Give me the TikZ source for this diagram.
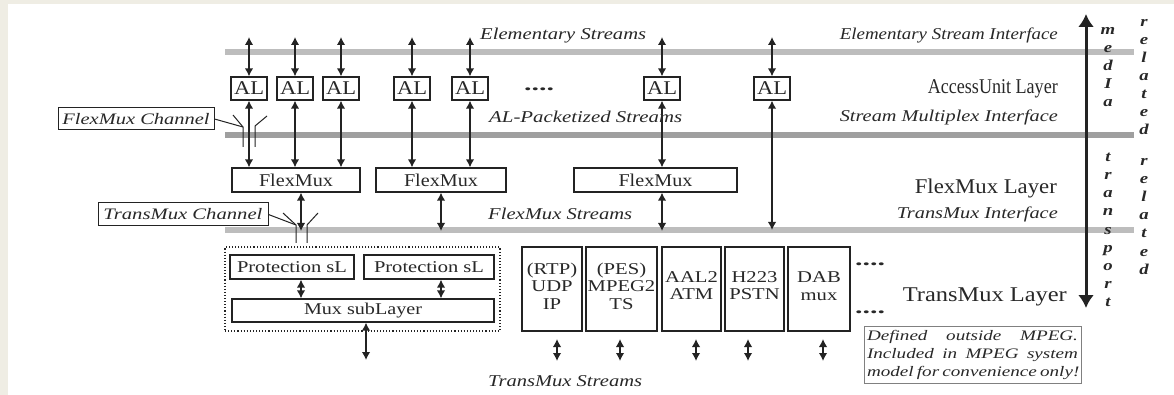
\documentclass[tikz,border=0pt]{standalone}
\usepackage{fontspec}
\setmainfont{Liberation Serif}
\usetikzlibrary{arrows.meta}
\definecolor{beige}{RGB}{239,237,228}
\definecolor{ink}{RGB}{35,35,35}
\definecolor{txt}{RGB}{40,40,40}
\newcommand{\fw}[2]{\resizebox{#1pt}{\height}{#2}}
\newcommand{\sx}[1]{\scalebox{1.25}[1]{#1}}
\newcommand{\jl}[1]{\resizebox{211pt}{\height}{\makebox[160pt][s]{#1}}}
\begin{document}
\begin{tikzpicture}[x=1pt,y=-1pt,
  box/.style={draw=ink, line width=1.3pt, inner sep=0pt, text=txt},
  lab/.style={text=txt, inner sep=0pt},
  ital/.style={lab, font=\fontsize{16.5}{16.5}\selectfont\itshape},
  big/.style={lab, font=\fontsize{21}{21}\selectfont},
  albox/.style={box, minimum width=36pt, minimum height=23pt, font=\fontsize{19.5}{19.5}\selectfont},
  fmbox/.style={box, minimum height=24pt, font=\fontsize{18}{18}\selectfont},
  tbox/.style={box, minimum height=84pt},
  ttext/.style={lab, align=center, font=\fontsize{16.5}{17.5}\selectfont},
  vl/.style={lab, font=\fontsize{15}{15}\selectfont\bfseries\itshape, anchor=base},
  dar/.style={draw=ink, line width=1.4pt, {Latex[length=8pt,width=8.5pt]}-{Latex[length=8pt,width=8.5pt]}},
  thinl/.style={draw=ink, line width=1pt},
  dots/.style={lab, font=\fontsize{18}{18}\selectfont\bfseries}
]
\useasboundingbox (0,0) rectangle (1174,395);
\fill[beige] (0,0) rectangle (1174,395);
\fill[white] (8,4) rectangle (1174,395);

% interface bands
\fill[gray!52] (225,49) rectangle (1134,55);
\fill[gray!75] (225,132) rectangle (1134,138);
\fill[gray!52] (225,227) rectangle (1134,233);

% AL boxes
\node[albox] (al1) at (249,88.5) {\fw{30}{AL}};
\node[albox] (al2) at (295,88.5) {\fw{30}{AL}};
\node[albox] (al3) at (341,88.5) {\fw{30}{AL}};
\node[albox] (al4) at (412,88.5) {\fw{30}{AL}};
\node[albox] (al5) at (470,88.5) {\fw{30}{AL}};
\node[albox] (al6) at (662,88.5) {\fw{30}{AL}};
\node[albox] (al7) at (772,88.5) {\fw{30}{AL}};
\node[dots] (dd1) at (539,89) {\fw{30}{....}};

% top stream arrows
\foreach \n/\x in {1/249,2/295,3/341,4/412,5/470,6/662,7/772}{
  \coordinate (t\n) at (\x,37);
  \draw[dar] (t\n) -- (al\n.north);
}

% FlexMux boxes
\node[fmbox, minimum width=128pt] (fm1) at (296,180) {\fw{74}{FlexMux}};
\node[fmbox, minimum width=130pt] (fm2) at (441,180) {\fw{74}{FlexMux}};
\node[fmbox, minimum width=163pt] (fm3) at (655.5,180) {\fw{74}{FlexMux}};

\draw[dar] (al1.south) -- (al1.south |- fm1.north);
\draw[dar] (al2.south) -- (al2.south |- fm1.north);
\draw[dar] (al3.south) -- (al3.south |- fm1.north);
\draw[dar] (al4.south) -- (al4.south |- fm2.north);
\draw[dar] (al5.south) -- (al5.south |- fm2.north);
\draw[dar] (al6.south) -- (al6.south |- fm3.north);
\coordinate (b7) at (772,230);
\draw[dar] (al7.south) -- (b7);

\coordinate (b1) at (301,231);
\coordinate (b2) at (441,231);
\coordinate (b3) at (662,231);
\draw[dar] (fm1.south -| b1) -- (b1);
\draw[dar] (fm2.south -| b2) -- (b2);
\draw[dar] (fm3.south -| b3) -- (b3);

% channel markers
\node[box, line width=1pt, minimum width=156pt, minimum height=22pt, font=\fontsize{16}{16}\selectfont\itshape] (fmc) at (136,119) {\fw{147}{FlexMux Channel}};
\coordinate (fcl) at (243,127);
\draw[thinl] (fmc.east) -- (fcl);
\draw[thinl] (233,115) -- (fcl) -- (243,147);
\draw[thinl] (267,116) -- (255,126) -- (255,147);

\node[box, line width=1pt, minimum width=170pt, minimum height=23pt, font=\fontsize{16}{16}\selectfont\itshape] (tmc) at (183,214.5) {\fw{159}{TransMux Channel}};
\coordinate (tcl) at (296,225);
\draw[thinl] (tmc.east) -- (tcl);
\draw[thinl] (283,213) -- (tcl) -- (296,243);
\draw[thinl] (318,213) -- (307,225) -- (307,243);

% protection / mux group
\node[draw=ink, dotted, line width=1.1pt, minimum width=275pt, minimum height=84pt, inner sep=0pt] (grp) at (362.5,289) {};
\node[box, minimum width=124pt, minimum height=24pt, font=\fontsize{16.5}{16.5}\selectfont] (p1) at (292,267) {\fw{110}{Protection sL}};
\node[box, minimum width=130pt, minimum height=24pt, font=\fontsize{16.5}{16.5}\selectfont] (p2) at (429,267) {\fw{110}{Protection sL}};
\node[box, minimum width=262pt, minimum height=23pt, font=\fontsize{16.5}{16.5}\selectfont] (mux) at (363,310.5) {\fw{118}{Mux subLayer}};
\draw[dar] ([xshift=9pt]p1.south) -- ([xshift=9pt]p1.south |- mux.north);
\draw[dar] ([xshift=12pt]p2.south) -- ([xshift=12pt]p2.south |- mux.north);
\coordinate (mx) at (366,360);
\draw[dar] (mux.south -| mx) -- (mx);

% transport boxes
\node[tbox, minimum width=60pt] (rtp) at (552,289) {};
\node[tbox, minimum width=71pt] (pes) at (621.5,289) {};
\node[tbox, minimum width=59pt] (aal) at (691.5,289) {};
\node[tbox, minimum width=59pt] (h223) at (754.5,289) {};
\node[tbox, minimum width=62pt] (dab) at (819,289) {};
\node[ttext] (rtpt) at ([yshift=3pt]rtp.center) {\sx{(RTP)}\\\sx{UDP}\\\sx{IP}};
\node[ttext] (pest) at ([yshift=3pt]pes.center) {\sx{(PES)}\\\sx{MPEG2}\\\sx{TS}};
\node[ttext] (aalt) at ([yshift=3.5pt]aal.center) {\sx{AAL2}\\\sx{ATM}};
\node[ttext] (h223t) at ([yshift=3.5pt]h223.center) {\sx{H223}\\\sx{PSTN}};
\node[ttext] (dabt) at ([yshift=3pt]dab.center) {\sx{DAB}\\\sx{mux}};
\node[dots] (dd2) at (870,264) {\fw{30}{....}};
\node[dots] (dd3) at (870,312) {\fw{30}{....}};

\foreach \n/\x in {1/557,2/620,3/696,4/748,5/823}{
  \coordinate (sa\n) at (\x,339);
  \coordinate (sb\n) at (\x,361);
  \draw[dar] (sa\n) -- (sb\n);
}

% note box
\node[draw=gray, line width=0.8pt, minimum width=217pt, minimum height=57pt, inner sep=0pt, align=center, text=txt, font=\fontsize{14.5}{18}\selectfont\itshape] (note) at (972.5,354.5)
  {\jl{Defined\hfill outside\hfill MPEG.}\\\jl{Included\hfill in\hfill MPEG\hfill system}\\\jl{model for convenience only!}};

% labels
\node[ital, anchor=base west] (les) at (480,40) {\fw{166}{Elementary Streams}};
\node[ital, anchor=base east] (lesi) at (1058,40) {\fw{218}{Elementary Stream Interface}};
\node[ital, anchor=base west] (lalp) at (489,123) {\fw{193}{AL-Packetized Streams}};
\node[ital, anchor=base east] (lsmi) at (1058,122) {\fw{218}{Stream Multiplex Interface}};
\node[ital, anchor=base west] (lfms) at (488,220) {\fw{144}{FlexMux Streams}};
\node[ital, anchor=base east] (ltmi) at (1058,219) {\fw{161}{TransMux Interface}};
\node[ital, anchor=base west] (ltms) at (488,386) {\fw{154}{TransMux Streams}};
\node[big, anchor=base east] (laul) at (1058,94) {\fw{130}{AccessUnit Layer}};
\node[big, anchor=base east] (lfml) at (1057,194) {\fw{142}{FlexMux Layer}};
\node[big, anchor=base east] (ltml) at (1067,301) {\fw{164}{TransMux Layer}};

% big vertical arrow
\coordinate (ua) at (1086,14);
\coordinate (da) at (1086,308);
\draw[draw=ink, line width=3pt, {Latex[length=13pt,width=16pt]}-{Latex[length=13pt,width=16pt]}] (ua) -- (da);

% vertical words
\foreach \ch [count=\i] in {m,e,d,I,a}
  \node[vl] (vm\i) at (1108,17+18*\i) {\scalebox{1.25}[1]{\ch}};
\foreach \ch [count=\i] in {r,e,l,a,t,e,d}
  \node[vl] (vr\i) at (1144,9+18*\i) {\scalebox{1.25}[1]{\ch}};
\foreach \ch [count=\i] in {t,r,a,n,s,p,o,r,t}
  \node[vl] (vt\i) at (1108,144+18*\i) {\scalebox{1.25}[1]{\ch}};
\foreach \ch [count=\i] in {r,e,l,a,t,e,d}
  \node[vl] (vs\i) at (1144,148+18*\i) {\scalebox{1.25}[1]{\ch}};
\end{tikzpicture}
\end{document}
